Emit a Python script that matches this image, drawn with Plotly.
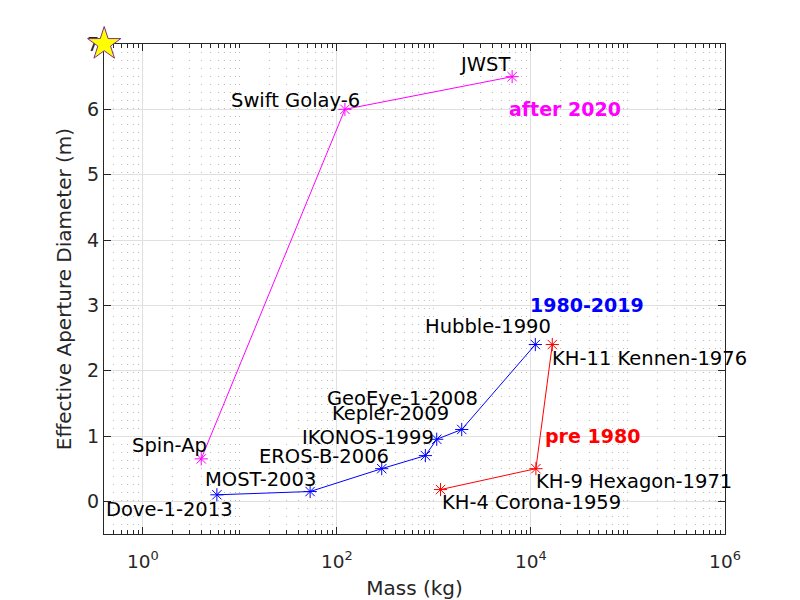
import numpy as np
import plotly.graph_objects as go

# ---------------- data ----------------
after2020_names = ["Spin-Ap", "Swift Golay-6", "JWST"]
after2020_mass = [4.0, 121, 6400]
after2020_diam = [0.65, 6.0, 6.5]

mid_names = ["Dove-1-2013", "MOST-2003", "EROS-B-2006", "IKONOS-1999",
             "Kepler-2009", "GeoEye-1-2008", "Hubble-1990"]
mid_mass = [5.8, 53, 290, 817, 1069, 1935, 11100]
mid_diam = [0.1, 0.15, 0.5, 0.7, 0.95, 1.1, 2.4]

pre_names = ["KH-4 Corona-1959", "KH-9 Hexagon-1971", "KH-11 Kennen-1976"]
pre_mass = [1170, 11250, 16600]
pre_diam = [0.18, 0.5, 2.4]

star_mass = [0.4]
star_diam = [7]

x_tick_vals = [1, 1e2, 1e4, 1e6]
x_tick_text = ["10<sup>0</sup>", "10<sup>2</sup>", "10<sup>4</sup>", "10<sup>6</sup>"]
y_tick_vals = [0, 1, 2, 3, 4, 5, 6, 7]
y_tick_text = ["0", "1", "2", "3", "4", "5", "6", "7"]

# label anchor positions (mass, diameter) for each text label
label_pos = {
    "Spin-Ap": (0.78, 0.85),
    "Swift Golay-6": (8.2, 6.14),
    "JWST": (1820, 6.68),
    "Dove-1-2013": (0.42, -0.13),
    "MOST-2003": (4.4, 0.33),
    "EROS-B-2006": (15.6, 0.69),
    "IKONOS-1999": (44.2, 0.98),
    "Kepler-2009": (88.8, 1.34),
    "GeoEye-1-2008": (80.0, 1.58),
    "Hubble-1990": (815, 2.68),
    "KH-4 Corona-1959": (1200, -0.02),
    "KH-9 Hexagon-1971": (11250, 0.30),
    "KH-11 Kennen-1976": (16600, 2.18),
}
group_labels = [("after 2020", "#FF00FF", (5900, 6.0)),
                ("1980-2019", "#0000FF", (9800, 3.0)),
                ("pre 1980", "#FF0000", (13900, 1.0))]

FONT = "DejaVu Sans"
AX = "#262626"

fig = go.Figure()
for m, d, c in [(after2020_mass, after2020_diam, "#FF00FF"),
                (mid_mass, mid_diam, "#0000FF"),
                (pre_mass, pre_diam, "#FF0000")]:
    fig.add_trace(go.Scatter(
        x=m, y=d, mode="lines+markers",
        line=dict(color=c, width=1),
        marker=dict(symbol="asterisk-open", size=11, color=c,
                    line=dict(color=c, width=1)),
        showlegend=False, cliponaxis=False))

fig.add_trace(go.Scatter(
    x=star_mass, y=star_diam, mode="markers",
    marker=dict(symbol="star", size=25, color="#FFFF00",
                line=dict(color="#7E2F8E", width=1)),
    showlegend=False, cliponaxis=False))

annotations = []
for name, (mx, dy) in label_pos.items():
    annotations.append(dict(
        x=np.log10(mx), y=dy, xref="x", yref="y", text=name,
        showarrow=False, xanchor="left", yanchor="middle",
        borderpad=0, borderwidth=0,
        font=dict(family=FONT, size=19.5, color="black")))
for txt, col, (mx, dy) in group_labels:
    annotations.append(dict(
        x=np.log10(mx), y=dy, xref="x", yref="y", text="<b>" + txt + "</b>",
        showarrow=False, xanchor="left", yanchor="middle",
        borderpad=0, borderwidth=0,
        font=dict(family=FONT, size=19, color=col)))

minor_x = [mm * 10.0 ** k for k in range(-1, 6) for mm in range(1, 10)
           if 0.4 <= mm * 10.0 ** k <= 1e6]
minor_x = [v for v in minor_x if v not in x_tick_vals]

fig.update_layout(
    width=800, height=600,
    margin=dict(l=104, r=75, t=44, b=66, autoexpand=False),
    paper_bgcolor="white", plot_bgcolor="white",
    font=dict(family=FONT, size=18, color=AX),
    annotations=annotations,
    xaxis=dict(
        type="log", range=[-0.4, 6], automargin=False,
        tickmode="array", tickvals=x_tick_vals, ticktext=x_tick_text,
        ticks="inside", ticklen=7, tickcolor=AX, tickwidth=1,
        showline=True, linecolor=AX, linewidth=1, mirror="allticks",
        showgrid=True, gridcolor="#e0e0e0", gridwidth=1,
        layer="below traces", ticklabelstandoff=11,
        tickfont=dict(family=FONT, size=18.5, color=AX),
        minor=dict(tickmode="array", tickvals=minor_x, ticks="inside",
                   ticklen=4, tickcolor=AX, showgrid=True,
                   gridcolor="#bdbdbd", griddash="1px,7px", gridwidth=1),
        title=dict(text="Mass (kg)", font=dict(family=FONT, size=20, color=AX),
                   standoff=10),
    ),
    yaxis=dict(
        range=[-0.5, 7], automargin=False,
        tickmode="array", tickvals=y_tick_vals, ticktext=y_tick_text,
        ticks="inside", ticklen=7, tickcolor=AX, tickwidth=1,
        showline=True, linecolor=AX, linewidth=1, mirror="ticks",
        showgrid=True, gridcolor="#e0e0e0", gridwidth=1, zeroline=False,
        layer="below traces",
        tickfont=dict(family=FONT, size=19, color=AX),
        title=dict(text="Effective Aperture Diameter (m)",
                   font=dict(family=FONT, size=20, color=AX), standoff=10),
    ),
)

fig.write_html("out.html")
